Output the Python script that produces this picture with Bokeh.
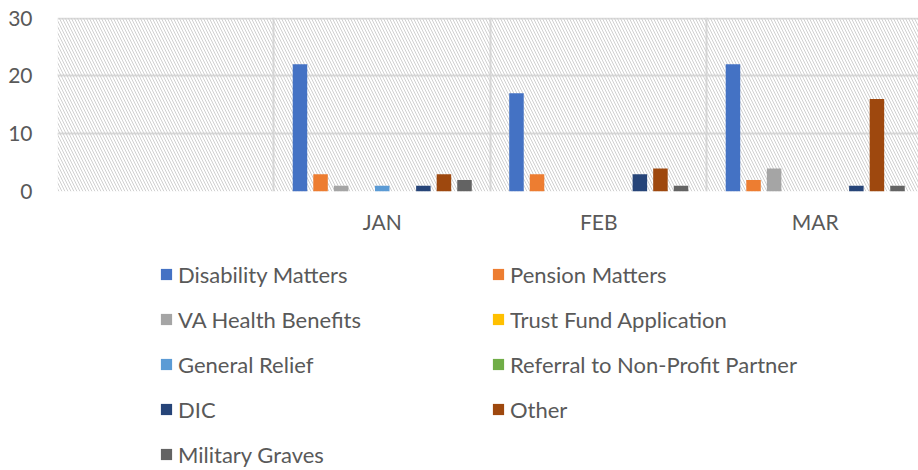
from bokeh.plotting import figure
from bokeh.layouts import column
from bokeh.models import Range1d, FixedTicker, Legend, LegendItem, ColumnDataSource
from bokeh.embed import file_html
from bokeh.resources import INLINE

categories = ["", "JAN", "FEB", "MAR"]
series_names = ["Disability Matters", "Pension Matters", "VA Health Benefits",
                "Trust Fund Application", "General Relief",
                "Referral to Non-Profit Partner", "DIC", "Other", "Military Graves"]
disability = [0, 22, 17, 22]
pension = [0, 3, 3, 2]
va_health = [0, 1, 0, 4]
trust_fund = [0, 0, 0, 0]
general_relief = [0, 1, 0, 0]
referral = [0, 0, 0, 0]
dic = [0, 1, 3, 1]
other = [0, 3, 4, 16]
military_graves = [0, 2, 1, 1]
series_values = [disability, pension, va_health, trust_fund, general_relief,
                 referral, dic, other, military_graves]
colors = ["#4472C4", "#ED7D31", "#A5A5A5", "#FFC000", "#5B9BD5",
          "#70AD47", "#264478", "#9E480E", "#636363"]
y_ticks = [0, 10, 20, 30]

FONT = "Lato"
TXT = "#595959"

# ---- main chart ----
p = figure(width=918, height=245, output_backend="svg", toolbar_location=None,
           x_range=Range1d(0, 3.977), y_range=Range1d(0, 30.1),
           min_border_left=57, min_border_right=0, min_border_top=17,
           min_border_bottom=54)
p.outline_line_color = None
p.background_fill_color = "white"

p.quad(left=[0], right=[len(categories)], bottom=[y_ticks[0]], top=[y_ticks[-1]],
       fill_color=None, line_color=None,
       hatch_pattern="left_diagonal_line", hatch_color="#d0d0d0",
       hatch_scale=6, hatch_weight=1)

slot = 0.095
bar_w = 0.067
centers = [i + 0.5 for i in range(len(categories))]
n = len(series_names)
for k, (vals, col) in enumerate(zip(series_values, colors)):
    xs = [c + (k - (n - 1) / 2) * slot for c in centers]
    src = ColumnDataSource(dict(x=xs, top=vals))
    p.vbar(x="x", top="top", width=bar_w, bottom=0, source=src,
           fill_color=col, line_color=None)

p.xaxis.ticker = FixedTicker(ticks=centers)
p.xaxis.major_label_overrides = {c: lab for c, lab in zip(centers, categories)}
p.yaxis.ticker = FixedTicker(ticks=y_ticks)
for ax in (p.xaxis[0], p.yaxis[0]):
    ax.axis_line_color = None
    ax.major_tick_line_color = None
    ax.minor_tick_line_color = None
    ax.major_label_text_font = FONT
    ax.major_label_text_font_size = "21px"
    ax.major_label_text_color = TXT
p.yaxis.major_label_standoff = 19
p.xaxis.major_label_standoff = 11

p.xgrid.ticker = FixedTicker(ticks=[0, 1, 2, 3, 4])
p.ygrid.ticker = FixedTicker(ticks=y_ticks)
for g in (p.xgrid[0], p.ygrid[0]):
    g.grid_line_color = "#d9d9d9"
    g.grid_line_width = 2

# ---- legend panel ----
lg = figure(width=918, height=225, output_backend="svg", toolbar_location=None,
            x_range=Range1d(0, 1), y_range=Range1d(0, 1),
            min_border=0)
lg.axis.visible = False
lg.grid.visible = False
lg.outline_line_color = None
items = []
for name, col in zip(series_names, colors):
    # zero-height swatch renderer placed outside the visible range
    r = lg.vbar(x=[5], top=[5], bottom=[5], width=0.1, fill_color=col, line_color=None)
    items.append(LegendItem(label=name, renderers=[r]))

legend = Legend(items=items, location=(102, 1), orientation="horizontal", ncols=2,
                glyph_width=14, glyph_height=14, label_standoff=5,
                label_width=298, label_height=30, spacing=15, padding=0, margin=0,
                border_line_color=None, background_fill_alpha=0,
                label_text_font=FONT, label_text_font_size="22px",
                label_text_color=TXT)
lg.add_layout(legend, "center")

open("out.html", "w").write(file_html(column(p, lg, spacing=0), INLINE))
